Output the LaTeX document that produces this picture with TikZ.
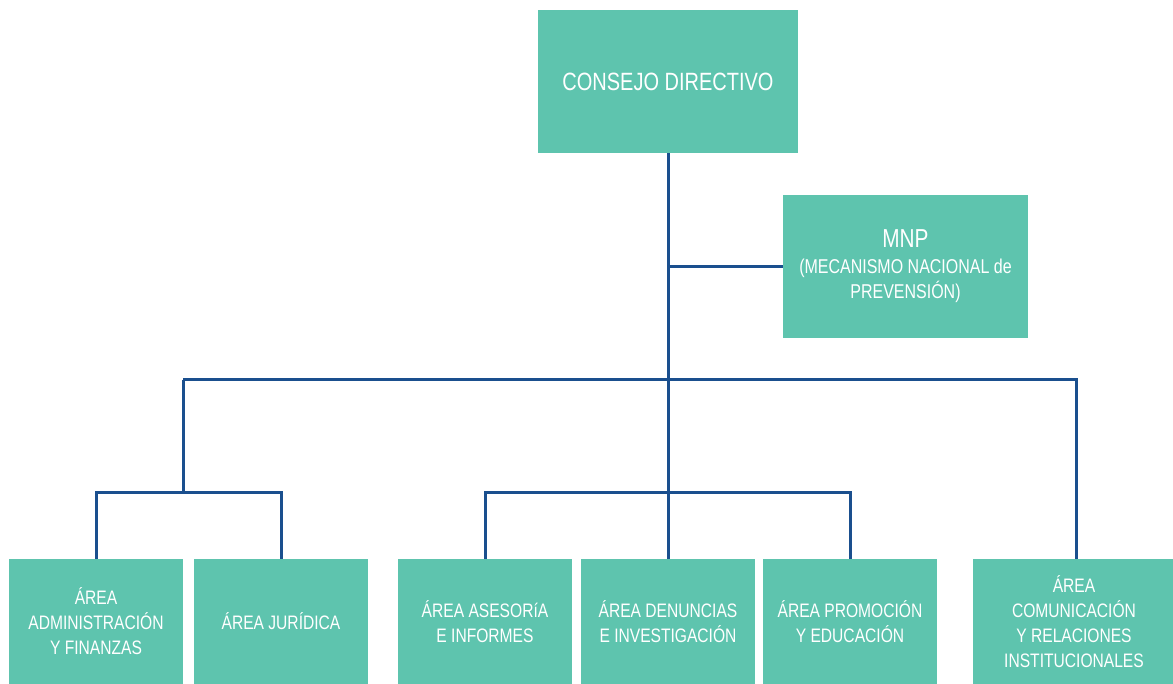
\documentclass[tikz,border=0pt]{standalone}
\usepackage{fontspec}
\setmainfont{Liberation Sans}[FakeStretch=0.80]
\definecolor{boxgreen}{HTML}{5EC4AE}
\definecolor{lineblue}{HTML}{1A4F8E}
\begin{document}
\begin{tikzpicture}[x=1pt,y=-1pt,
  box/.style={fill=boxgreen,text=white,inner sep=0pt,align=center,font=\fontsize{19.5}{25}\selectfont},
  conn/.style={draw=lineblue,line width=3pt}]
\useasboundingbox (0,0) rectangle (1173,684);
% nodes
\node[box,minimum width=260pt,minimum height=143pt,font=\fontsize{25}{30}\selectfont] (cd) at (668,81.5) {CONSEJO DIRECTIVO};
\node[box,minimum width=245pt,minimum height=143pt,font=\fontsize{20}{25.5}\selectfont] (mnp) at (905.5,266.5) {{\fontsize{26}{25.5}\selectfont MNP}\\(MECANISMO NACIONAL de\\PREVENSIÓN)};
\node[box,minimum width=174pt,minimum height=125pt] (adm) at (96,621.5) {ÁREA\\ADMINISTRACIÓN\\Y FINANZAS};
\node[box,minimum width=174pt,minimum height=125pt] (jur) at (281,621.5) {ÁREA JURÍDICA};
\node[box,minimum width=174pt,minimum height=125pt] (ase) at (485,621.5) {ÁREA ASESORíA\\E INFORMES};
\node[box,minimum width=174pt,minimum height=125pt] (den) at (668,621.5) {ÁREA DENUNCIAS\\E INVESTIGACIÓN};
\node[box,minimum width=174pt,minimum height=125pt] (pro) at (850,621.5) {ÁREA PROMOCIÓN\\Y EDUCACIÓN};
\node[box,minimum width=202pt,minimum height=125pt] (com) at (1074,621.5) {ÁREA\\COMUNICACIÓN\\Y RELACIONES\\INSTITUCIONALES};
% junction coordinates
\coordinate (j1) at (668,380);
\coordinate (jl) at (183,380);
\coordinate (jr) at (1076,380);
\coordinate (jm) at (668,267);
\coordinate (jla) at (183,492);
\coordinate (jca) at (668,492);
% connectors
\draw[conn] (cd.south) -- (den.north);
\draw[conn] (jm) -- (mnp.west |- jm);
\draw[conn] (jl) -- (jr) -- (com.north -| jr);
\draw[conn] (jl) -- (jla);
\draw[conn] (adm.north) |- (jla) -| (jur.north);
\draw[conn] (ase.north) |- (jca) -| (pro.north);
\end{tikzpicture}
\end{document}
